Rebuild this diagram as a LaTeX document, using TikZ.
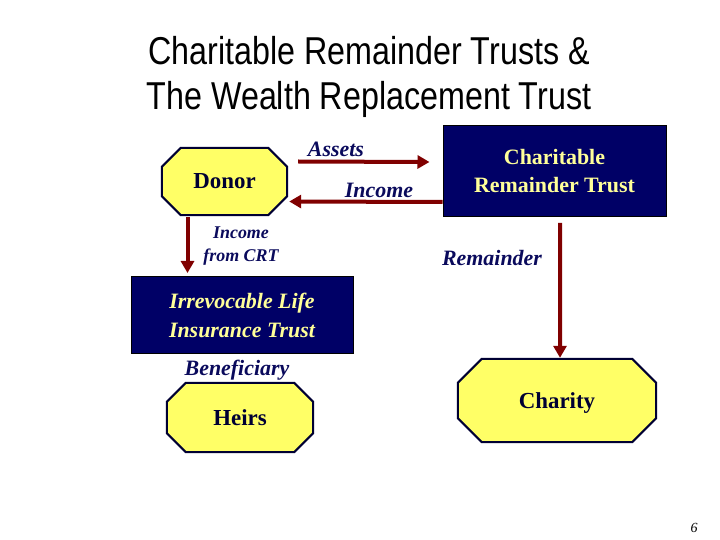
\documentclass[tikz,border=0pt]{standalone}
\usepackage{fontspec}
\setmainfont{Liberation Serif}
\newfontfamily\titlefont{Liberation Sans}
\usepackage{xcolor}
\usepackage{tikz}
\usetikzlibrary{arrows.meta,backgrounds}
\definecolor{navybox}{HTML}{000066}
\definecolor{trusttext}{HTML}{FFFF99}
\definecolor{lbltext}{HTML}{0A0A5C}
\definecolor{octfill}{HTML}{FFFF66}
\definecolor{octline}{HTML}{000033}
\definecolor{flowred}{HTML}{800000}
% chamfered outline behind a named node: #1 node, #2 cut
\newcommand{\octobox}[2]{%
  \filldraw[fill=octfill, draw=octline, line width=2bp, line join=miter]
    ([xshift=#2]#1.north west) -- ([xshift=-#2]#1.north east) --
    ([yshift=-#2]#1.north east) -- ([yshift=#2]#1.south east) --
    ([xshift=-#2]#1.south east) -- ([xshift=#2]#1.south west) --
    ([yshift=#2]#1.south west) -- ([yshift=-#2]#1.north west) -- cycle;}

\begin{document}
\begin{tikzpicture}[x=1bp, y=-1bp, every node/.style={inner sep=0pt}]
  \tikzstyle{octo}=[rectangle, text=octline, text height=15bp, text depth=0bp, font=\fontsize{23}{26}\selectfont\bfseries]
  \tikzstyle{trust}=[rectangle, draw=black, line width=1bp, fill=navybox, text=trusttext, align=center]
  \tikzstyle{lbl}=[text=lbltext, font=\fontsize{22}{26}\selectfont\bfseries\itshape, align=center]
  \tikzstyle{flow}=[draw=flowred, line width=4bp, -{Triangle[length=12bp,width=13bp]}]
  \useasboundingbox (0,0) rectangle (720,540);

  % title
  \node[anchor=base] (ttl1) at (369,65) {\scalebox{0.83}[1]{\titlefont\fontsize{39}{45}\selectfont Charitable Remainder Trusts \&}};
  \node[anchor=base] (ttl2) at (369,110) {\scalebox{0.83}[1]{\titlefont\fontsize{39}{45}\selectfont The Wealth Replacement Trust}};

  % parties and trusts
  \node[octo, minimum width=125bp, minimum height=67bp] (donor) at (224.5,181.5) {Donor};
  \node[octo, minimum width=146bp, minimum height=69bp] (heirs) at (240,417.5) {Heirs};
  \node[octo, minimum width=198bp, minimum height=83bp] (charity) at (557,400.5) {Charity};
  \node[trust, minimum width=223bp, minimum height=91bp, font=\fontsize{22}{28}\selectfont\bfseries] (crt) at (554.5,171) {Charitable\\Remainder Trust};
  \node[trust, minimum width=222bp, minimum height=77bp, font=\fontsize{22}{29}\selectfont\bfseries\itshape] (ilit) at (242,315) {Irrevocable Life\\Insurance Trust};
  \begin{scope}[on background layer]
    \octobox{donor}{19bp}
    \octobox{heirs}{19bp}
    \octobox{charity}{24bp}
  \end{scope}

  % flows
  \draw[flow] ([shift={(11,-20)}]donor.east) -- ([shift={(-13,-9)}]crt.west);
  \draw[flow] ([shift={(0,31)}]crt.west) -- ([shift={(2,20)}]donor.east);
  \draw[flow] ([shift={(-37,2)}]donor.south) -- ([shift={(-37,-3)}]donor.south |- ilit.north);
  \draw[flow] ([shift={(5.5,6)}]crt.south) -- ([shift={(3,-1)}]charity.north);

  % labels
  \node[lbl] (assets) at (336,149) {Assets};
  \node[lbl] (income) at (379,190) {Income};
  \node[lbl, font=\fontsize{18}{24}\selectfont\bfseries\itshape] (fromcrt) at (241,246) {Income\\from CRT};
  \node[lbl] (remainder) at (492,258) {Remainder};
  \node[lbl] (benef) at (237,370) {Beneficiary};
  \node[font=\fontsize{14}{16}\selectfont\itshape] (pagenum) at (694,528) {6};
\end{tikzpicture}
\end{document}
